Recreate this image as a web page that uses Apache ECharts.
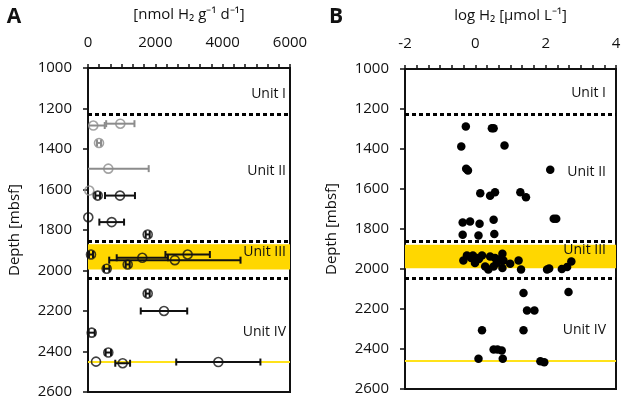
<!DOCTYPE html>
<html><head><meta charset="utf-8">
<script src="https://cdn.jsdelivr.net/npm/echarts@6/dist/echarts.min.js"></script>
<style>html,body{margin:0;padding:0;background:#fff}#c{width:624px;height:403px}</style>
</head><body><div id="c"></div>
<script>
// ---- tick labels ----
const depthTicks = [1000, 1200, 1400, 1600, 1800, 2000, 2200, 2400, 2600];
const rateTicks = [0, 2000, 4000, 6000];
const logTicks = [-2, 0, 2, 4];

// ---- Panel A: H2 production rates (grey = one group, black = other) ----
const grayRate  = [157, 960, 327, 603, 39];
const grayDepth = [1284, 1275, 1370, 1497, 1605];
const grayErr   = [340, 420, 60, 1200, 0];

const blackRate  = [288, 950, 9, 704, 1773, 89, 555, 1179, 1613, 2580, 2960, 1773, 2257, 110, 603, 238, 1030, 3871];
const blackDepth = [1630, 1630, 1737, 1761, 1822, 1921, 1991, 1970, 1937, 1949, 1921, 2114, 2200, 2307, 2405, 2450, 2458, 2452];
const blackErr   = [70, 445, 0, 367, 60, 60, 80, 60, 760, 1950, 660, 60, 690, 90, 80, 0, 220, 1250];

// ---- Panel B: log H2 concentrations ----
const logH2 = [-0.27, 0.47, 0.52, -0.40, 0.83, -0.26, -0.21, 2.13, 0.14, 0.42, 0.56, 1.28, 1.44,
  2.23, 2.30, -0.36, -0.15, 0.12, 0.52, -0.36, 0.09, 0.54,
  -0.34, -0.24, -0.07, -0.01, 0.04, 0.19, 0.28, 0.37, 0.42, 0.52, 0.56, 0.61, 0.77, 0.80, 0.77, 0.99, 1.23, 1.30,
  2.04, 2.10, 2.46, 2.61, 2.73, 0.10, 0.66, -0.12,
  1.37, 2.65, 1.47, 1.68, 0.19, 1.37, 0.52, 0.63, 0.75, 0.09, 0.78, 1.85, 1.96];
const logDepth = [1288, 1296, 1296, 1388, 1383, 1499, 1508, 1504, 1621, 1634, 1616, 1616, 1641,
  1749, 1749, 1767, 1762, 1774, 1754, 1829, 1832, 1825,
  1957, 1932, 1932, 1970, 1945, 1932, 1987, 2003, 1937, 1987, 1945, 1970, 1924, 1957, 1995, 1974, 1957, 2003,
  2003, 1998, 2000, 1990, 1962, 1950, 1952, 1945,
  2120, 2115, 2207, 2207, 2306, 2306, 2403, 2403, 2408, 2449, 2449, 2461, 2466];

// ---- lithological units ----
const unitNames = ['Unit I', 'Unit II', 'Unit III', 'Unit IV'];
const unitLabelDepthA = [1127, 1511, 1911, 2306];
const unitLabelDepthB = [1120, 1513, 1907, 2306];
const unitBoundsA = [1230, 1858, 2036];
const unitBoundsB = [1226, 1860, 2045];
const bandA = [1870, 1995];
const bandB = [1879, 1996];
const yellowLineA = 2452;
const yellowLineB = 2458;

const FONT = 'Open Sans';
const INK = '#111';
const GREY = '#8c8c8c';
const YELLOW = '#FFD700';

function errRender(color) {
  return function (params, api) {
    const v = api.value(0), d = api.value(1), e = api.value(2);
    if (!e) return null;
    const lo = api.coord([v - e, d]);
    const hi = api.coord([v + e, d]);
    const cap = 3.5;
    const st = { stroke: color, lineWidth: 2 };
    return {
      type: 'group',
      children: [
        { type: 'line', shape: { x1: lo[0], y1: lo[1], x2: hi[0], y2: hi[1] }, style: st },
        { type: 'line', shape: { x1: lo[0], y1: lo[1] - cap, x2: lo[0], y2: lo[1] + cap }, style: st },
        { type: 'line', shape: { x1: hi[0], y1: hi[1] - cap, x2: hi[0], y2: hi[1] + cap }, style: st }
      ]
    };
  };
}

function markers(bounds, band, yl) {
  return {
    type: 'scatter', data: [], silent: true, z: 1,
    markArea: { silent: true, z: 1, itemStyle: { color: YELLOW }, data: [[{ yAxis: band[0] }, { yAxis: band[1] }]] },
    markLine: {
      silent: true, z: 2, symbol: ['none', 'none'], label: { show: false }, animation: false,
      data: bounds.map(b => ({ yAxis: b, lineStyle: { type: [4, 3], width: 3, color: '#000' } }))
        .concat([{ yAxis: yl, lineStyle: { type: 'solid', width: 2, color: '#FFE21A' } }])
    }
  };
}

function xAxisCfg(grid, ticks, name, gap) {
  return {
    type: 'value', gridIndex: grid, position: 'top',
    min: ticks[0], max: ticks[ticks.length - 1], interval: ticks[1] - ticks[0],
    name: name, nameLocation: 'middle', nameGap: gap,
    nameTextStyle: { fontSize: 15, color: INK, fontFamily: FONT },
    axisLine: { show: true, onZero: false, lineStyle: { color: INK, width: 2 } },
    axisTick: { show: true, length: 4, lineStyle: { color: INK, width: 1.5 } },
    minorTick: { show: true, splitNumber: 6, length: 4, lineStyle: { color: INK, width: 1.5 } },
    splitLine: { show: false },
    axisLabel: { fontSize: 15, color: INK, fontFamily: FONT, margin: 18, formatter: v => String(v) }
  };
}
function yAxisCfg(grid, gap) {
  return {
    type: 'value', gridIndex: grid, inverse: true,
    min: depthTicks[0], max: depthTicks[depthTicks.length - 1], interval: depthTicks[1] - depthTicks[0],
    name: 'Depth [mbsf]', nameLocation: 'middle', nameGap: gap, nameRotate: 90,
    nameTextStyle: { fontSize: 15, color: INK, fontFamily: FONT },
    axisLine: { show: true, onZero: false, lineStyle: { color: INK, width: 2 } },
    axisTick: { show: true, length: 5, lineStyle: { color: INK, width: 1.5 } },
    splitLine: { show: false },
    axisLabel: { fontSize: 15, color: INK, fontFamily: FONT, margin: 16, formatter: v => String(v) }
  };
}

const chart = echarts.init(document.getElementById('c'), null, { renderer: 'canvas' });
chart.setOption({
  animation: false,
  backgroundColor: '#fff',
  grid: [
    { left: 88, top: 68, width: 202, height: 324, show: true, borderColor: INK, borderWidth: 2, backgroundColor: 'transparent' },
    { left: 405, top: 69, width: 211, height: 320, show: true, borderColor: INK, borderWidth: 2, backgroundColor: 'transparent' }
  ],
  xAxis: [
    xAxisCfg(0, rateTicks, '[nmol H\u2082 g\u207B\u00B9 d\u207B\u00B9]', 46),
    xAxisCfg(1, logTicks, 'log H\u2082 [\u00B5mol L\u207B\u00B9]', 46)
  ],
  yAxis: [yAxisCfg(0, 66), yAxisCfg(1, 66)],
  series: [
    Object.assign(markers(unitBoundsA, bandA, yellowLineA), { xAxisIndex: 0, yAxisIndex: 0 }),
    Object.assign(markers(unitBoundsB, bandB, yellowLineB), { xAxisIndex: 1, yAxisIndex: 1 }),
    { type: 'custom', xAxisIndex: 0, yAxisIndex: 0, clip: true, z: 6, silent: true,
      encode: { x: 0, y: 1 },
      data: grayRate.map((v, i) => [v, grayDepth[i], grayErr[i]]), renderItem: errRender(GREY) },
    { type: 'custom', xAxisIndex: 0, yAxisIndex: 0, clip: true, z: 6, silent: true,
      encode: { x: 0, y: 1 },
      data: blackRate.map((v, i) => [v, blackDepth[i], blackErr[i]]), renderItem: errRender(INK) },
    { type: 'scatter', xAxisIndex: 0, yAxisIndex: 0, z: 7, symbol: 'circle', symbolSize: 9,
      itemStyle: { color: 'rgba(0,0,0,0)', borderColor: GREY, borderWidth: 1.6 },
      data: grayRate.map((v, i) => [v, grayDepth[i]]) },
    { type: 'scatter', xAxisIndex: 0, yAxisIndex: 0, z: 7, symbol: 'circle', symbolSize: 9,
      itemStyle: { color: 'rgba(0,0,0,0)', borderColor: INK, borderWidth: 1.6 },
      data: blackRate.map((v, i) => [v, blackDepth[i]]) },
    { type: 'scatter', xAxisIndex: 1, yAxisIndex: 1, z: 7, symbol: 'circle', symbolSize: 8.5,
      itemStyle: { color: '#000', opacity: 1 },
      data: logH2.map((v, i) => [v, logDepth[i]]) }
  ]
});

// unit labels and panel letters, placed via the axes' own scales
const gfx = [];
unitNames.forEach((n, i) => {
  const pa = chart.convertToPixel({ xAxisIndex: 0, yAxisIndex: 0 }, [rateTicks[rateTicks.length - 1], unitLabelDepthA[i]]);
  const pb = chart.convertToPixel({ xAxisIndex: 1, yAxisIndex: 1 }, [logTicks[logTicks.length - 1], unitLabelDepthB[i]]);
  gfx.push({ type: 'text', x: pa[0] - 4, y: pa[1], z: 10,
    style: { text: n, fontSize: 14, fontFamily: FONT, fill: INK, align: 'right', verticalAlign: 'middle' } });
  gfx.push({ type: 'text', x: pb[0] - 10, y: pb[1], z: 10,
    style: { text: n, fontSize: 14, fontFamily: FONT, fill: INK, align: 'right', verticalAlign: 'middle' } });
});
gfx.push({ type: 'text', x: 14, y: 17, style: { text: 'A', fontSize: 21, fontWeight: 'bold', fontFamily: FONT, fill: INK, align: 'center', verticalAlign: 'middle' } });
gfx.push({ type: 'text', x: 336, y: 17, style: { text: 'B', fontSize: 21, fontWeight: 'bold', fontFamily: FONT, fill: INK, align: 'center', verticalAlign: 'middle' } });
chart.setOption({ graphic: gfx });
</script>
</body></html>
